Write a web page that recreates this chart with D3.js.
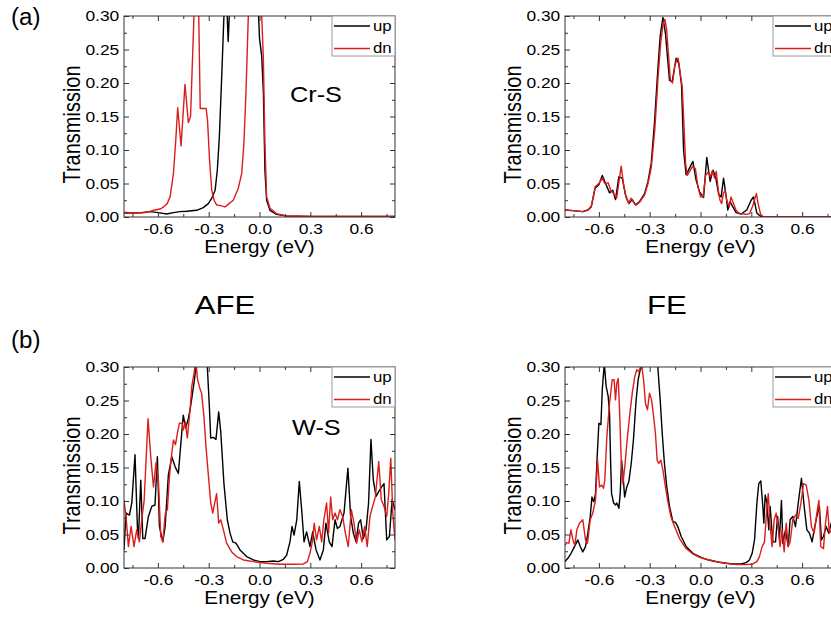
<!DOCTYPE html>
<html>
<head>
<meta charset="utf-8">
<script src="https://cdn.jsdelivr.net/npm/d3@7"></script>
<style>
  body { margin: 0; background: #fff; }
  text { font-family: "Liberation Sans", Arial, sans-serif; fill: #000; }
</style>
</head>
<body>
<div id="chart"></div>
<script>
// transmission spectra, [energy (eV), T]
var crAfeUp = [[-0.8,0.006],[-0.75,0.006],[-0.7,0.0065],[-0.646,0.008],[-0.597,0.0065],[-0.548,0.0045],[-0.508,0.0065],[-0.47,0.008],[-0.43,0.0085],[-0.371,0.01],[-0.332,0.014],[-0.302,0.02],[-0.282,0.028],[-0.262,0.04],[-0.249,0.07],[-0.237,0.12],[-0.223,0.21],[-0.21,0.3],[-0.2,0.32],[-0.192,0.31],[-0.185,0.262],[-0.175,0.32],[-0.16,0.45],[-0.1,0.6],[-0.04,0.55],[-0.01,0.33],[0.0,0.267],[0.013,0.24],[0.023,0.185],[0.032,0.07],[0.042,0.025],[0.062,0.01],[0.1,0.004],[0.16,0.0015],[0.3,0.001],[0.5,0.001],[0.8,0.001]];
var crAfeDn = [[-0.8,0.007],[-0.75,0.006],[-0.7,0.006],[-0.665,0.007],[-0.62,0.0105],[-0.585,0.012],[-0.567,0.015],[-0.545,0.02],[-0.528,0.03],[-0.508,0.065],[-0.493,0.12],[-0.483,0.163],[-0.463,0.106],[-0.44,0.198],[-0.42,0.141],[-0.407,0.15],[-0.387,0.3],[-0.375,0.45],[-0.36,0.32],[-0.35,0.162],[-0.315,0.162],[-0.307,0.145],[-0.295,0.085],[-0.282,0.04],[-0.268,0.025],[-0.253,0.018],[-0.23,0.017],[-0.204,0.015],[-0.18,0.02],[-0.155,0.025],[-0.125,0.043],[-0.105,0.065],[-0.092,0.11],[-0.08,0.185],[-0.066,0.3],[-0.04,0.8],[0.0,0.9],[0.013,0.3],[0.023,0.235],[0.032,0.11],[0.042,0.03],[0.062,0.013],[0.1,0.005],[0.16,0.0015],[0.3,0.001],[0.5,0.001],[0.8,0.001]];

var crFeUp = [[-0.8,0.0105],[-0.754,0.0095],[-0.695,0.008],[-0.665,0.0105],[-0.645,0.015],[-0.622,0.043],[-0.6,0.048],[-0.58,0.062],[-0.557,0.048],[-0.537,0.036],[-0.518,0.04],[-0.502,0.026],[-0.482,0.06],[-0.462,0.058],[-0.443,0.033],[-0.423,0.02],[-0.403,0.026],[-0.384,0.018],[-0.36,0.023],[-0.33,0.035],[-0.31,0.053],[-0.291,0.08],[-0.272,0.14],[-0.252,0.22],[-0.238,0.27],[-0.222,0.298],[-0.207,0.274],[-0.183,0.204],[-0.167,0.202],[-0.144,0.237],[-0.128,0.229],[-0.112,0.197],[-0.1,0.1],[-0.085,0.063],[-0.065,0.073],[-0.045,0.083],[-0.026,0.055],[-0.006,0.038],[0.018,0.029],[0.037,0.089],[0.057,0.053],[0.073,0.07],[0.089,0.06],[0.108,0.033],[0.122,0.03],[0.136,0.058],[0.152,0.03],[0.161,0.0105],[0.175,0.023],[0.191,0.015],[0.21,0.0065],[0.24,0.0045],[0.273,0.0105],[0.299,0.025],[0.313,0.03],[0.333,0.0055],[0.358,0.0005],[0.5,0.0005],[0.8,0.0005]];
var crFeDn = [[-0.8,0.0105],[-0.754,0.0095],[-0.695,0.008],[-0.665,0.0105],[-0.645,0.016],[-0.622,0.045],[-0.6,0.05],[-0.58,0.058],[-0.565,0.05],[-0.545,0.051],[-0.53,0.04],[-0.51,0.034],[-0.495,0.028],[-0.48,0.055],[-0.468,0.076],[-0.455,0.05],[-0.44,0.03],[-0.425,0.02],[-0.41,0.028],[-0.395,0.022],[-0.38,0.018],[-0.36,0.022],[-0.33,0.033],[-0.31,0.05],[-0.29,0.075],[-0.27,0.13],[-0.25,0.21],[-0.235,0.26],[-0.22,0.29],[-0.21,0.295],[-0.2,0.28],[-0.19,0.245],[-0.178,0.205],[-0.165,0.2],[-0.152,0.225],[-0.14,0.235],[-0.132,0.237],[-0.12,0.215],[-0.108,0.195],[-0.098,0.14],[-0.088,0.08],[-0.078,0.062],[-0.06,0.07],[-0.045,0.076],[-0.03,0.072],[-0.015,0.045],[0.0,0.03],[0.015,0.03],[0.03,0.062],[0.045,0.067],[0.058,0.06],[0.07,0.069],[0.083,0.058],[0.093,0.068],[0.105,0.04],[0.115,0.025],[0.125,0.02],[0.135,0.035],[0.145,0.04],[0.155,0.025],[0.17,0.015],[0.18,0.03],[0.195,0.02],[0.21,0.01],[0.23,0.005],[0.27,0.004],[0.29,0.005],[0.31,0.018],[0.33,0.035],[0.34,0.02],[0.355,0.004],[0.37,0.0005],[0.5,0.0005],[0.8,0.0005]];

var wAfeUp = [[-0.8,0.027],[-0.788,0.082],[-0.768,0.079],[-0.754,0.097],[-0.735,0.169],[-0.721,0.062],[-0.715,0.044],[-0.701,0.131],[-0.689,0.044],[-0.676,0.044],[-0.656,0.077],[-0.636,0.092],[-0.617,0.094],[-0.603,0.166],[-0.591,0.062],[-0.571,0.039],[-0.557,0.062],[-0.538,0.139],[-0.518,0.166],[-0.498,0.151],[-0.479,0.141],[-0.46,0.199],[-0.45,0.228],[-0.436,0.209],[-0.42,0.223],[-0.407,0.241],[-0.387,0.276],[-0.375,0.3],[-0.36,0.4],[-0.33,0.45],[-0.308,0.3],[-0.296,0.241],[-0.288,0.194],[-0.272,0.195],[-0.257,0.192],[-0.241,0.233],[-0.229,0.204],[-0.21,0.126],[-0.19,0.072],[-0.174,0.052],[-0.158,0.039],[-0.139,0.037],[-0.115,0.027],[-0.076,0.017],[-0.036,0.012],[0.003,0.0095],[0.042,0.0095],[0.082,0.0105],[0.111,0.0095],[0.141,0.013],[0.16,0.019],[0.18,0.039],[0.192,0.062],[0.204,0.049],[0.22,0.072],[0.235,0.129],[0.249,0.087],[0.263,0.039],[0.278,0.054],[0.298,0.032],[0.314,0.054],[0.334,0.027],[0.357,0.012],[0.377,0.027],[0.392,0.067],[0.412,0.039],[0.428,0.032],[0.446,0.072],[0.46,0.059],[0.475,0.062],[0.499,0.082],[0.522,0.149],[0.538,0.077],[0.554,0.052],[0.57,0.039],[0.585,0.067],[0.597,0.072],[0.613,0.044],[0.629,0.057],[0.644,0.097],[0.658,0.192],[0.672,0.131],[0.688,0.107],[0.704,0.114],[0.721,0.121],[0.735,0.126],[0.751,0.042],[0.767,0.047],[0.783,0.102],[0.8,0.087]];
var wAfeDn = [[-0.8,0.101],[-0.788,0.077],[-0.774,0.032],[-0.758,0.062],[-0.741,0.032],[-0.725,0.057],[-0.709,0.039],[-0.693,0.077],[-0.681,0.101],[-0.658,0.223],[-0.642,0.166],[-0.626,0.121],[-0.611,0.157],[-0.597,0.131],[-0.583,0.047],[-0.571,0.039],[-0.556,0.082],[-0.544,0.087],[-0.532,0.136],[-0.518,0.171],[-0.508,0.191],[-0.496,0.184],[-0.485,0.201],[-0.473,0.216],[-0.457,0.216],[-0.45,0.206],[-0.438,0.218],[-0.426,0.194],[-0.41,0.236],[-0.4,0.271],[-0.387,0.29],[-0.375,0.31],[-0.367,0.283],[-0.352,0.268],[-0.342,0.261],[-0.328,0.226],[-0.316,0.181],[-0.302,0.139],[-0.288,0.097],[-0.276,0.082],[-0.263,0.099],[-0.253,0.111],[-0.241,0.067],[-0.229,0.072],[-0.213,0.057],[-0.194,0.037],[-0.164,0.024],[-0.135,0.017],[-0.095,0.012],[-0.036,0.0095],[0.042,0.007],[0.121,0.0055],[0.2,0.0055],[0.259,0.006],[0.283,0.0095],[0.298,0.022],[0.312,0.039],[0.323,0.067],[0.337,0.042],[0.353,0.062],[0.367,0.039],[0.38,0.072],[0.396,0.097],[0.408,0.052],[0.42,0.106],[0.432,0.072],[0.446,0.082],[0.46,0.072],[0.475,0.087],[0.491,0.077],[0.507,0.052],[0.524,0.032],[0.542,0.087],[0.558,0.067],[0.574,0.037],[0.589,0.057],[0.605,0.039],[0.621,0.062],[0.636,0.032],[0.652,0.077],[0.668,0.092],[0.684,0.106],[0.704,0.159],[0.719,0.102],[0.735,0.092],[0.751,0.077],[0.763,0.111],[0.775,0.164],[0.787,0.082],[0.8,0.042]];

var wFeUp = [[-0.8,0.0095],[-0.783,0.0145],[-0.764,0.022],[-0.744,0.032],[-0.724,0.042],[-0.71,0.032],[-0.695,0.024],[-0.679,0.032],[-0.665,0.052],[-0.651,0.077],[-0.641,0.106],[-0.63,0.099],[-0.62,0.111],[-0.61,0.166],[-0.6,0.216],[-0.588,0.214],[-0.58,0.266],[-0.568,0.305],[-0.557,0.271],[-0.545,0.256],[-0.537,0.231],[-0.531,0.161],[-0.525,0.111],[-0.513,0.097],[-0.502,0.094],[-0.494,0.097],[-0.482,0.089],[-0.474,0.111],[-0.466,0.161],[-0.458,0.141],[-0.448,0.106],[-0.435,0.121],[-0.423,0.129],[-0.409,0.156],[-0.396,0.191],[-0.38,0.251],[-0.368,0.281],[-0.356,0.296],[-0.344,0.3],[-0.32,0.4],[-0.29,0.42],[-0.27,0.35],[-0.252,0.3],[-0.238,0.251],[-0.226,0.201],[-0.213,0.156],[-0.199,0.121],[-0.183,0.092],[-0.163,0.069],[-0.148,0.068],[-0.134,0.062],[-0.114,0.047],[-0.085,0.032],[-0.045,0.022],[-0.006,0.017],[0.033,0.013],[0.073,0.0105],[0.112,0.0085],[0.152,0.007],[0.191,0.006],[0.24,0.006],[0.27,0.008],[0.289,0.012],[0.305,0.022],[0.319,0.042],[0.333,0.097],[0.344,0.126],[0.356,0.13],[0.368,0.092],[0.374,0.067],[0.382,0.109],[0.392,0.097],[0.403,0.057],[0.411,0.092],[0.427,0.039],[0.443,0.039],[0.455,0.077],[0.466,0.044],[0.478,0.101],[0.486,0.037],[0.502,0.057],[0.518,0.032],[0.529,0.072],[0.545,0.077],[0.561,0.062],[0.577,0.097],[0.596,0.134],[0.612,0.092],[0.628,0.057],[0.643,0.052],[0.659,0.039],[0.675,0.062],[0.687,0.077],[0.702,0.092],[0.714,0.042],[0.726,0.047],[0.742,0.062],[0.757,0.052],[0.775,0.07],[0.8,0.05]];
var wFeDn = [[-0.8,0.034],[-0.789,0.038],[-0.777,0.037],[-0.765,0.057],[-0.753,0.042],[-0.742,0.034],[-0.73,0.057],[-0.714,0.067],[-0.695,0.072],[-0.679,0.042],[-0.667,0.037],[-0.651,0.072],[-0.636,0.082],[-0.62,0.101],[-0.608,0.161],[-0.596,0.121],[-0.584,0.124],[-0.573,0.119],[-0.565,0.131],[-0.553,0.196],[-0.537,0.246],[-0.521,0.281],[-0.51,0.281],[-0.502,0.251],[-0.494,0.276],[-0.486,0.283],[-0.478,0.236],[-0.468,0.161],[-0.458,0.126],[-0.447,0.151],[-0.435,0.186],[-0.419,0.226],[-0.403,0.261],[-0.388,0.286],[-0.376,0.296],[-0.364,0.293],[-0.354,0.3],[-0.346,0.3],[-0.336,0.281],[-0.325,0.246],[-0.313,0.236],[-0.301,0.261],[-0.289,0.251],[-0.277,0.226],[-0.266,0.201],[-0.256,0.161],[-0.246,0.156],[-0.234,0.161],[-0.222,0.146],[-0.207,0.121],[-0.191,0.097],[-0.175,0.077],[-0.153,0.062],[-0.124,0.044],[-0.085,0.029],[-0.045,0.021],[-0.006,0.016],[0.033,0.013],[0.073,0.011],[0.112,0.0085],[0.152,0.007],[0.211,0.005],[0.27,0.005],[0.309,0.006],[0.333,0.0095],[0.348,0.017],[0.364,0.032],[0.378,0.039],[0.388,0.077],[0.4,0.111],[0.411,0.062],[0.423,0.032],[0.435,0.072],[0.447,0.082],[0.458,0.062],[0.47,0.032],[0.482,0.057],[0.494,0.024],[0.506,0.067],[0.518,0.032],[0.529,0.039],[0.545,0.072],[0.561,0.079],[0.577,0.074],[0.593,0.097],[0.608,0.126],[0.624,0.124],[0.64,0.101],[0.655,0.062],[0.671,0.052],[0.687,0.082],[0.699,0.101],[0.71,0.032],[0.726,0.029],[0.738,0.067],[0.75,0.092],[0.761,0.052],[0.78,0.06],[0.8,0.05]];

var xMajor = [-0.6, -0.3, 0.0, 0.3, 0.6];
var xMinor = [-0.75, -0.45, -0.15, 0.15, 0.45, 0.75];
var yMajor = [0.00, 0.05, 0.10, 0.15, 0.20, 0.25, 0.30];
var yMinor = [0.025, 0.075, 0.125, 0.175, 0.225, 0.275];
var seriesNames = ["up", "dn"];
var seriesColors = ["#000000", "#dd1c1c"];

var svgWidth = 831, svgHeight = 617;
var width = 271, height = 201;

var svg = d3.select("#chart").append("svg")
    .attr("width", svgWidth)
    .attr("height", svgHeight)
    .style("display", "block");

var x = d3.scaleLinear().domain([-0.8, 0.8]).range([0, width]);
var y = d3.scaleLinear().domain([0, 0.3]).range([height, 0]);

// text squeezed wider like the original figure
function wideText(g, px, py, txt, size, sx, anchor) {
    return g.append("text")
        .attr("transform", "translate(" + px + "," + py + ") scale(" + sx + ",1)")
        .attr("text-anchor", anchor || "start")
        .style("font-size", size + "px")
        .text(txt);
}

var panels = [
    {left: 124, top: 16, up: crAfeUp, dn: crAfeDn, label: "Cr-S", lx: 290, ly: 102},
    {left: 565, top: 16, up: crFeUp, dn: crFeDn},
    {left: 124, top: 367, up: wAfeUp, dn: wAfeDn, label: "W-S", lx: 292, ly: 435},
    {left: 565, top: 367, up: wFeUp, dn: wFeDn}
];

var line = d3.line()
    .x(function(d) { return x(d[0]); })
    .y(function(d) { return y(d[1]); });

panels.forEach(function(p, i) {
    var g = svg.append("g").attr("transform", "translate(" + p.left + "," + p.top + ")");

    svg.append("clipPath").attr("id", "clip" + i)
        .append("rect").attr("width", width).attr("height", height);

    var plot = g.append("g").attr("clip-path", "url(#clip" + i + ")");
    [p.up, p.dn].forEach(function(s, k) {
        plot.append("path")
            .datum(s)
            .attr("fill", "none")
            .attr("stroke", seriesColors[k])
            .attr("stroke-width", 1.4)
            .attr("stroke-linejoin", "round")
            .attr("d", line);
    });

    // axes, ticks pointing inward
    var bottom = g.append("g").attr("transform", "translate(0," + height + ")")
        .call(d3.axisBottom(x).tickValues(xMajor).tickSize(-5).tickPadding(7)
            .tickFormat(function(d) { return d.toFixed(1); }));
    g.append("g").attr("transform", "translate(0," + height + ")")
        .call(d3.axisBottom(x).tickValues(xMinor).tickSize(-3).tickFormat(""));
    g.append("g").call(d3.axisTop(x).tickValues(xMajor).tickSize(-5).tickFormat(""));
    g.append("g").call(d3.axisTop(x).tickValues(xMinor).tickSize(-3).tickFormat(""));
    var left = g.append("g")
        .call(d3.axisLeft(y).tickValues(yMajor).tickSize(-5).tickPadding(4)
            .tickFormat(function(d) { return d.toFixed(2); }));
    g.append("g").call(d3.axisLeft(y).tickValues(yMinor).tickSize(-3).tickFormat(""));
    g.append("g").attr("transform", "translate(" + width + ",0)")
        .call(d3.axisRight(y).tickValues(yMajor).tickSize(-5).tickFormat(""));
    g.append("g").attr("transform", "translate(" + width + ",0)")
        .call(d3.axisRight(y).tickValues(yMinor).tickSize(-3).tickFormat(""));

    g.selectAll(".domain").remove();
    g.selectAll(".tick line").attr("stroke", "#333");
    [bottom, left].forEach(function(a) {
        a.selectAll("text")
            .attr("transform", "scale(1.2,1)")
            .style("font-size", "14.5px")
            .style("font-family", "'Liberation Sans', Arial, sans-serif")
            .attr("fill", "#000");
    });

    g.append("rect")
        .attr("width", width).attr("height", height)
        .attr("fill", "none").attr("stroke", "#333").attr("stroke-width", 1);

    // axis titles
    wideText(g, width / 2, height + 36, "Energy (eV)", 18, 1.15, "middle");
    g.append("text")
        .attr("transform", "translate(-44," + (height / 2 + 8) + ") rotate(-90) scale(1,1.2)")
        .attr("text-anchor", "middle")
        .style("font-size", "20px")
        .text("Transmission");

    // legend
    var lg = g.append("g").attr("transform", "translate(" + (width - 63) + ",0)");
    lg.append("rect").attr("width", 63).attr("height", 40)
        .attr("fill", "#fff").attr("stroke", "#999").attr("stroke-width", 1);
    seriesNames.forEach(function(n, k) {
        var ly = 10 + k * 22.5;
        lg.append("line").attr("x1", 2).attr("x2", 38).attr("y1", ly).attr("y2", ly)
            .attr("stroke", seriesColors[k]).attr("stroke-width", 1.4);
        wideText(lg, 41, ly + 4.5, n, 14, 1.2, "start");
    });

    if (p.label) wideText(svg, p.lx, p.ly, p.label, 22, 1.15, "start");
});

wideText(svg, 11, 25, "(a)", 23, 1.05, "start");
wideText(svg, 11, 348, "(b)", 23, 1.05, "start");
wideText(svg, 225, 314, "AFE", 26, 1.2, "middle");
wideText(svg, 667, 314, "FE", 26, 1.2, "middle");
</script>
</body>
</html>
